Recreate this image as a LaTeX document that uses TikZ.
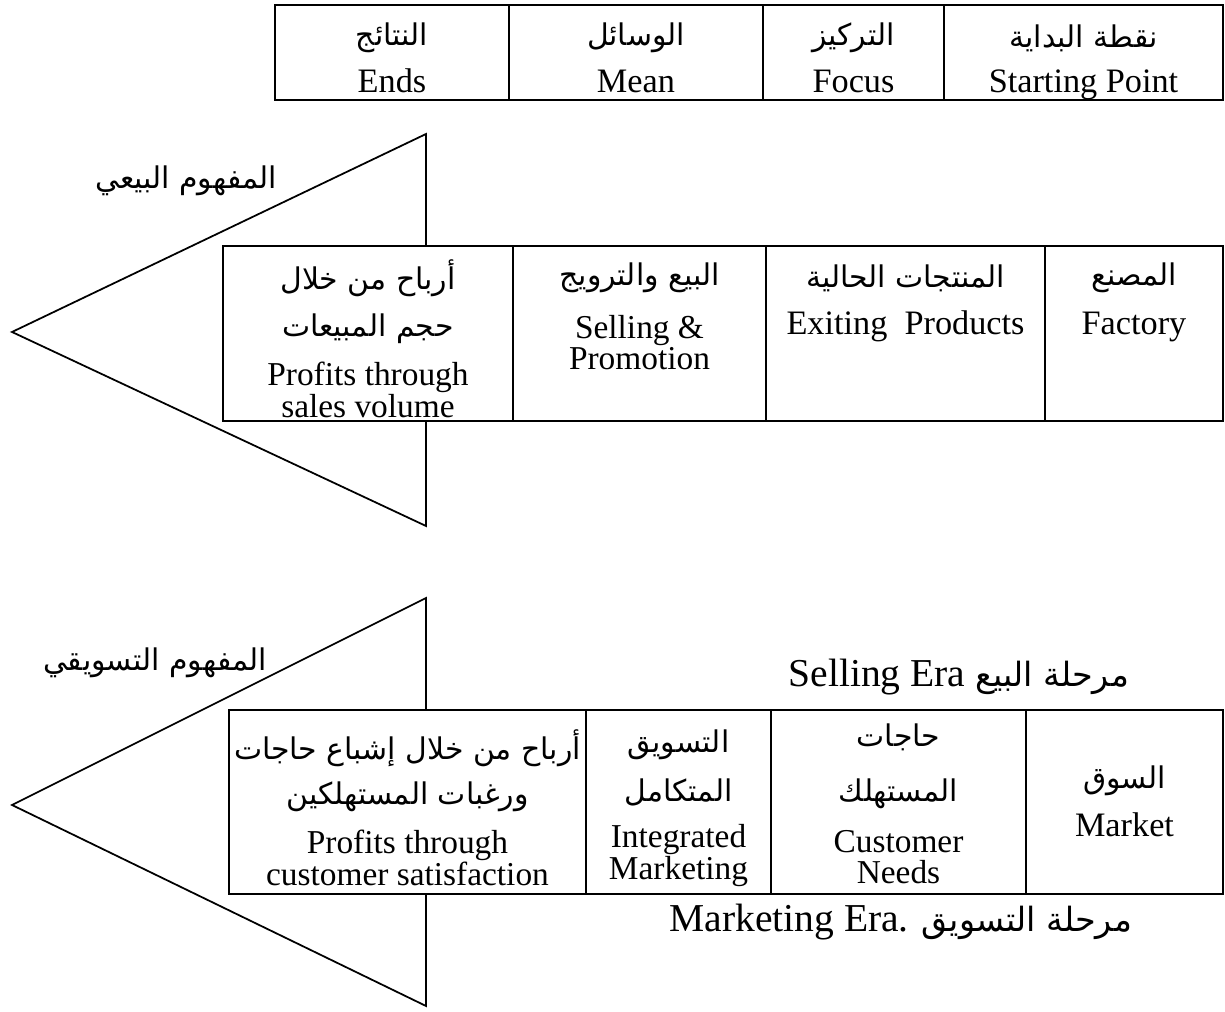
\documentclass[tikz,border=0pt]{standalone}
\usepackage{fontspec}
\setmainfont{Liberation Serif}
\newfontfamily\arabicfont[Script=Arabic]{DejaVu Sans}
\TeXXeTstate=1
\newcommand\artext[1]{{\arabicfont\beginR #1\endR}}

\begin{document}
\begin{tikzpicture}[line width=1pt,
    cell/.style={draw, rectangle, inner sep=0pt},
    en/.style={font=\fontsize{19.5}{23}\selectfont, inner sep=0pt, text height=13pt, text depth=4pt},
    entwo/.style={font=\fontsize{19}{18}\selectfont, inner sep=0pt, align=center},
    ar/.style={font=\fontsize{17}{20}\selectfont, inner sep=0pt},
    era/.style={font=\fontsize{22.5}{27}\selectfont, inner sep=0pt, anchor=east}]
    \useasboundingbox (0,0) rectangle (24.5,20.24);

    % 表头
    \node[cell, minimum width=4.68cm, minimum height=1.9cm] (ends) at (7.84,19.19) {};
    \node[cell, minimum width=5.08cm, minimum height=1.9cm] (mean) at (12.72,19.19) {};
    \node[cell, minimum width=3.62cm, minimum height=1.9cm] (focus) at (17.07,19.19) {};
    \node[cell, minimum width=5.58cm, minimum height=1.9cm] (start) at (21.67,19.19) {};

    \node[ar] at (ends.north) [yshift=-0.68cm] {\artext{النتائج}};
    \node[ar] at (mean.north) [yshift=-0.68cm] {\artext{الوسائل}};
    \node[ar] at (focus.north) [yshift=-0.68cm] {\artext{التركيز}};
    \node[ar] at (start.north) [yshift=-0.68cm] {\artext{نقطة البداية}};
    \node[en] at (ends.north) [yshift=-1.6cm] {Ends};
    \node[en] at (mean.north) [yshift=-1.6cm] {Mean};
    \node[en] at (focus.north) [yshift=-1.6cm] {Focus};
    \node[en] at (start.north) [yshift=-1.6cm] {Starting Point};

    % 销售观念
    \node[cell, minimum width=5.8cm, minimum height=3.5cm] (prof1) at (7.36,13.57) {};
    \node[cell, minimum width=5.06cm, minimum height=3.5cm] (promo) at (12.79,13.57) {};
    \node[cell, minimum width=5.58cm, minimum height=3.5cm] (prod) at (18.11,13.57) {};
    \node[cell, minimum width=3.56cm, minimum height=3.5cm] (factory) at (22.68,13.57) {};

    \node[ar] at (prof1.north) [yshift=-0.66cm] {\artext{أرباح من خلال}};
    \node[ar] at (prof1.north) [yshift=-1.68cm] {\artext{حجم المبيعات}};
    \node[entwo] at (prof1.north) [yshift=-2.9cm] {Profits through\\sales volume};
    \node[ar] at (promo.north) [yshift=-0.66cm] {\artext{البيع والترويج}};
    \node[entwo] at (promo.north) [yshift=-1.95cm] {Selling \&\\Promotion};
    \node[ar] at (prod.north) [yshift=-0.66cm] {\artext{المنتجات الحالية}};
    \node[en] at (prod.north) [yshift=-1.62cm] {Exiting~ Products};
    \node[ar] at (factory.north) [yshift=-0.66cm] {\artext{المصنع}};
    \node[en] at (factory.north) [yshift=-1.62cm] {Factory};

    \coordinate (sellTip) at (0.24,13.6);
    \coordinate (sellTop) at (8.52,17.56);
    \coordinate (sellBot) at (8.52,9.72);
    \draw (sellTop |- prof1.north) -- (sellTop) -- (sellTip) -- (sellBot) -- (sellBot |- prof1.south);
    \node[ar] (sellLabel) at (3.72,16.62) {\artext{المفهوم البيعي}};

    % 营销观念
    \node[cell, minimum width=7.14cm, minimum height=3.68cm] (prof2) at (8.15,4.2) {};
    \node[cell, minimum width=3.7cm, minimum height=3.68cm] (integ) at (13.57,4.2) {};
    \node[cell, minimum width=5.1cm, minimum height=3.68cm] (needs) at (17.97,4.2) {};
    \node[cell, minimum width=3.94cm, minimum height=3.68cm] (market) at (22.49,4.2) {};

    \node[ar] at (prof2.north) [yshift=-0.78cm] {\artext{أرباح من خلال إشباع حاجات}};
    \node[ar] at (prof2.north) [yshift=-1.76cm] {\artext{ورغبات المستهلكين}};
    \node[entwo] at (prof2.north) [yshift=-2.98cm] {Profits through\\customer satisfaction};
    \node[ar] at (integ.north) [yshift=-0.72cm] {\artext{التسويق}};
    \node[ar] at (integ.north) [yshift=-1.66cm] {\artext{المتكامل}};
    \node[entwo] at (integ.north) [yshift=-2.93cm] {Integrated\\Marketing};
    \node[ar] at (needs.north) [yshift=-0.56cm] {\artext{حاجات}};
    \node[ar] at (needs.north) [yshift=-1.7cm] {\artext{المستهلك}};
    \node[entwo] at (needs.north) [yshift=-2.96cm] {Customer\\Needs};
    \node[ar] at (market.north) [yshift=-1.44cm] {\artext{السوق}};
    \node[en] at (market.north) [yshift=-2.38cm] {Market};

    \coordinate (mktTip) at (0.24,4.14);
    \coordinate (mktTop) at (8.52,8.28);
    \coordinate (mktBot) at (8.52,0.12);
    \draw (mktTop |- prof2.north) -- (mktTop) -- (mktTip) -- (mktBot) -- (mktBot |- prof2.south);
    \node[ar] (mktLabel) at (3.1,6.98) {\artext{المفهوم التسويقي}};

    % 阶段
    \node[era] (sellEra) at (22.6,6.7) {Selling Era {\fontsize{19}{23}\selectfont\artext{مرحلة البيع}}};
    \node[era] (mktEra) at (22.66,1.8) {Marketing Era. {\fontsize{19}{23}\selectfont\artext{مرحلة التسويق}}};
  \end{tikzpicture}
\end{document}
